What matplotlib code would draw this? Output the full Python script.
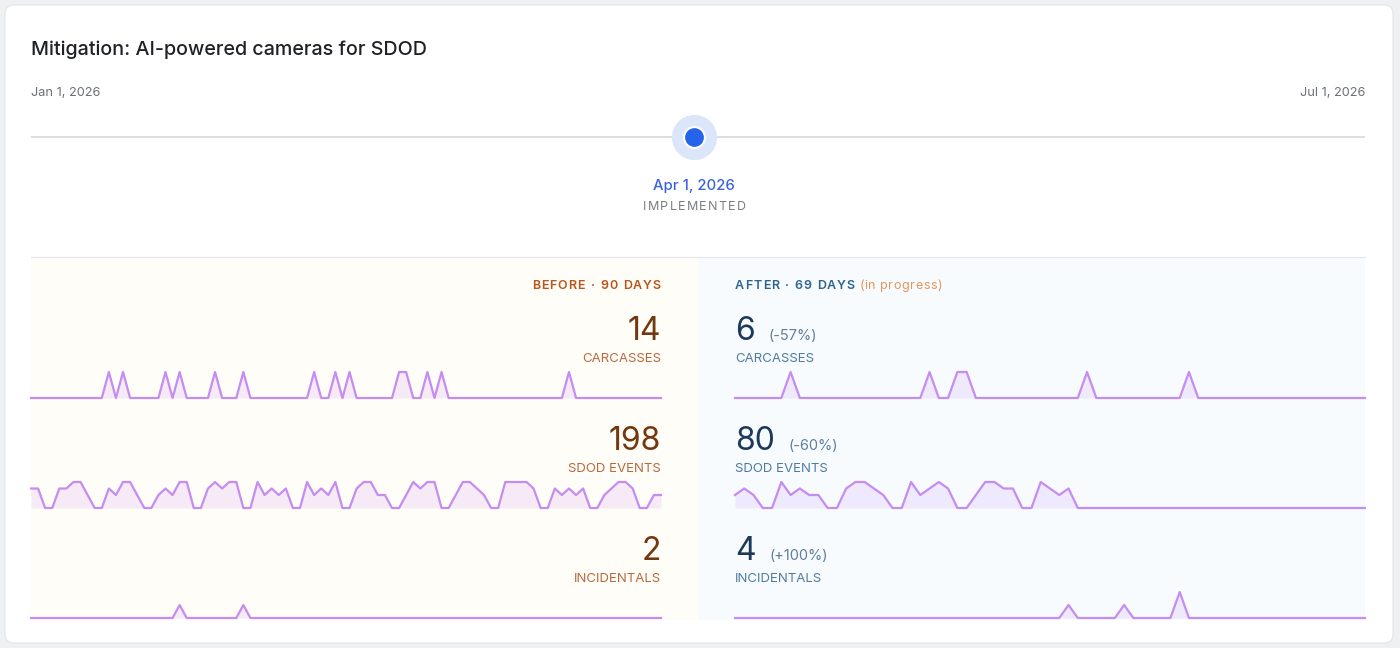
import datetime as dt
import matplotlib
matplotlib.use("Agg")
import matplotlib.pyplot as plt
import matplotlib.dates as mdates
from matplotlib.patches import FancyBboxPatch, Rectangle

W, H = 1400, 648
plt.rcParams['font.family'] = ['Inter', 'DejaVu Sans']

title = "Mitigation: AI-powered cameras for SDOD"
range_start = dt.date(2026, 1, 1)
range_end = dt.date(2026, 7, 1)
implemented = dt.date(2026, 4, 1)

metrics = ["CARCASSES", "SDOD EVENTS", "INCIDENTALS"]
before_totals = ["14", "198", "2"]
after_totals = ["6", "80", "4"]
after_change = ["(-57%)", "(-60%)", "(+100%)"]

# daily counts, 90 days before / 69 days after
before_carcasses = [0, 0, 0, 0, 0, 0, 0, 0, 0, 0,
                    0, 1, 0, 1, 0, 0, 0, 0, 0, 1,
                    0, 1, 0, 0, 0, 0, 1, 0, 0, 0,
                    1, 0, 0, 0, 0, 0, 0, 0, 0, 0,
                    1, 0, 0, 1, 0, 1, 0, 0, 0, 0,
                    0, 0, 1, 1, 0, 0, 1, 0, 1, 0,
                    0, 0, 0, 0, 0, 0, 0, 0, 0, 0,
                    0, 0, 0, 0, 0, 0, 1, 0, 0, 0,
                    0, 0, 0, 0, 0, 0, 0, 0, 0, 0]
before_sdod = [3, 3, 0, 0, 3, 3, 4, 4, 2, 0,
               0, 3, 2, 4, 4, 2, 0, 0, 2, 3,
               2, 4, 4, 0, 0, 3, 4, 3, 4, 4,
               0, 0, 4, 2, 3, 2, 3, 0, 0, 4,
               2, 3, 2, 4, 0, 0, 3, 4, 4, 2,
               2, 0, 0, 2, 4, 3, 4, 4, 0, 0,
               2, 4, 4, 3, 2, 0, 0, 4, 4, 4,
               4, 3, 0, 0, 3, 2, 3, 2, 3, 0,
               0, 2, 3, 4, 4, 3, 0, 0, 2, 2]
before_incidentals = [0, 0, 0, 0, 0, 0, 0, 0, 0, 0,
                      0, 0, 0, 0, 0, 0, 0, 0, 0, 0,
                      0, 1, 0, 0, 0, 0, 0, 0, 0, 0,
                      1, 0, 0, 0, 0, 0, 0, 0, 0, 0,
                      0, 0, 0, 0, 0, 0, 0, 0, 0, 0,
                      0, 0, 0, 0, 0, 0, 0, 0, 0, 0,
                      0, 0, 0, 0, 0, 0, 0, 0, 0, 0,
                      0, 0, 0, 0, 0, 0, 0, 0, 0, 0,
                      0, 0, 0, 0, 0, 0, 0, 0, 0, 0]

after_carcasses = [0, 0, 0, 0, 0, 0, 1, 0, 0, 0,
                   0, 0, 0, 0, 0, 0, 0, 0, 0, 0,
                   0, 1, 0, 0, 1, 1, 0, 0, 0, 0,
                   0, 0, 0, 0, 0, 0, 0, 0, 1, 0,
                   0, 0, 0, 0, 0, 0, 0, 0, 0, 1,
                   0, 0, 0, 0, 0, 0, 0, 0, 0, 0,
                   0, 0, 0, 0, 0, 0, 0, 0, 0]
after_sdod = [2, 3, 2, 0, 0, 4, 2, 3, 2, 2,
              0, 0, 3, 4, 4, 3, 2, 0, 0, 4,
              2, 3, 4, 3, 0, 0, 2, 4, 4, 3,
              3, 0, 0, 4, 3, 2, 3, 0, 0, 0,
              0, 0, 0, 0, 0, 0, 0, 0, 0, 0,
              0, 0, 0, 0, 0, 0, 0, 0, 0, 0,
              0, 0, 0, 0, 0, 0, 0, 0, 0]
after_incidentals = [0, 0, 0, 0, 0, 0, 0, 0, 0, 0,
                     0, 0, 0, 0, 0, 0, 0, 0, 0, 0,
                     0, 0, 0, 0, 0, 0, 0, 0, 0, 0,
                     0, 0, 0, 0, 0, 0, 1, 0, 0, 0,
                     0, 0, 1, 0, 0, 0, 0, 0, 2, 0,
                     0, 0, 0, 0, 0, 0, 0, 0, 0, 0,
                     0, 0, 0, 0, 0, 0, 0, 0, 0]

before_series = [before_carcasses, before_sdod, before_incidentals]
after_series = [after_carcasses, after_sdod, after_incidentals]

LINE = '#c58cf2'
L_NUM, L_LBL, L_HEAD = '#72380f', '#b9683f', '#b8561c'
R_NUM, R_LBL, R_PCT, R_HEAD = '#1b3a5a', '#4f7c9e', '#5f7f9d', '#2e6390'


def px_axes(x0, y0, x1, y1):
    return fig.add_axes([x0 / W, 1 - y1 / H, (x1 - x0) / W, (y1 - y0) / H])


def ink_w(s, **kw):
    t = bg.text(0, 0, s, **kw)
    w = t.get_window_extent(r).width
    t.remove()
    return w


def word_w(word, sp, **kw):
    return sum(ink_w(c, **kw) for c in word) + sp * (len(word) - 1)


def spaced(x, y, s, sp, ha='left', gap=4.5, **kw):
    # letter-spaced text: glyph by glyph, words separated by a fixed gap
    words = s.split(' ')
    total = sum(word_w(w, sp, **kw) for w in words) + (gap + sp) * (len(words) - 1)
    if ha == 'right':
        x = x - total
    elif ha == 'center':
        x = x - total / 2
    cx = x
    for w in words:
        for c in w:
            bg.text(cx, y, c, **kw)
            cx += ink_w(c, **kw) + sp
        cx += gap
    return x + total


fig = plt.figure(figsize=(W / 100, H / 100), dpi=100)
fig.patch.set_facecolor('#eff0f2')
r = fig.canvas.get_renderer()

bg = fig.add_axes([0, 0, 1, 1])
bg.set_xlim(0, W)
bg.set_ylim(H, 0)
bg.axis('off')
bg.add_patch(FancyBboxPatch((5, 5), 1388, 638, boxstyle="round,pad=0,rounding_size=9",
                            fc='white', ec='#e3e5e9', lw=0.8))
bg.add_patch(Rectangle((31, 257), 667, 363, fc='#fffdf7', ec='none'))
bg.add_patch(Rectangle((698, 257), 667, 363, fc='#f7fbfe', ec='none'))
bg.plot([31, 1365], [256.5, 256.5], color='#e4e6e9', lw=0.8)

bg.text(31, 55, title, fontsize=14.2, color='#1e2126', fontweight='medium')
bg.text(31, 96, range_start.strftime("%b %-d, %Y"), fontsize=9.2, color='#6c7077')
bg.text(1365, 96, range_end.strftime("%b %-d, %Y"), fontsize=9.2, color='#6c7077', ha='right')

# timeline
tl = px_axes(31, 100, 1365, 174)
tl.set_xlim(range_start, range_end)
tl.set_ylim(-1, 1)
tl.axis('off')
tl.plot([range_start, range_end], [0, 0], color='#d3d6db', lw=1.1, solid_capstyle='butt')
tl.plot([implemented], [0], 'o', ms=32.5, color='#dbe6fb', mec='none')
tl.plot([implemented], [0], 'o', ms=16.5, color='white', mec='none')
tl.plot([implemented], [0], 'o', ms=13.5, color='#2563eb', mec='none')
xc = tl.transData.transform((mdates.date2num(implemented), 0))[0]
bg.text(xc, 190, implemented.strftime("%b %-d, %Y"), fontsize=10.7, color='#3b62dc',
        ha='center', fontweight='medium')
spaced(xc, 210, "IMPLEMENTED", 1.2, ha='center', fontsize=9, color='#7a7d82')

spaced(661, 289, "BEFORE · 90 DAYS", 1.0, ha='right', fontsize=9, color=L_HEAD, fontweight='semibold')
end = spaced(735, 289, "AFTER · 69 DAYS", 1.0, fontsize=9, color=R_HEAD, fontweight='semibold')
spaced(end + 4.5, 289, "(in progress)", 0.6, gap=3.5, fontsize=9, color='#e2975e')

row_num_y = [340, 450, 560]
row_lbl_y = [362, 472, 582]
row_base = [398, 508, 618]
spark_h = 26

for i, name in enumerate(metrics):
    bg.text(661, row_num_y[i], before_totals[i], fontsize=23, color=L_NUM, ha='right')
    bg.text(661, row_lbl_y[i], name, fontsize=9.5, color=L_LBL, ha='right')
    nt = bg.text(735, row_num_y[i], after_totals[i], fontsize=23, color=R_NUM)
    bg.text(nt.get_window_extent(r).x1 + 14, row_num_y[i], after_change[i], fontsize=10.5, color=R_PCT)
    bg.text(735, row_lbl_y[i], name, fontsize=9.5, color=R_LBL)

    ymax = max(max(before_series[i]), max(after_series[i]))
    for x0, x1, data in [(31, 661, before_series[i]), (735, 1365, after_series[i])]:
        ax = px_axes(x0, row_base[i] - spark_h, x1, row_base[i])
        days = list(range(len(data)))
        ax.fill_between(days, data, 0, color=LINE, alpha=0.16, lw=0)
        ax.plot(days, data, color=LINE, lw=1.6, solid_joinstyle='round', clip_on=False)
        ax.set_xlim(0, len(data) - 1)
        ax.set_ylim(0, ymax)
        ax.axis('off')

fig.savefig("out.png", dpi=100)
